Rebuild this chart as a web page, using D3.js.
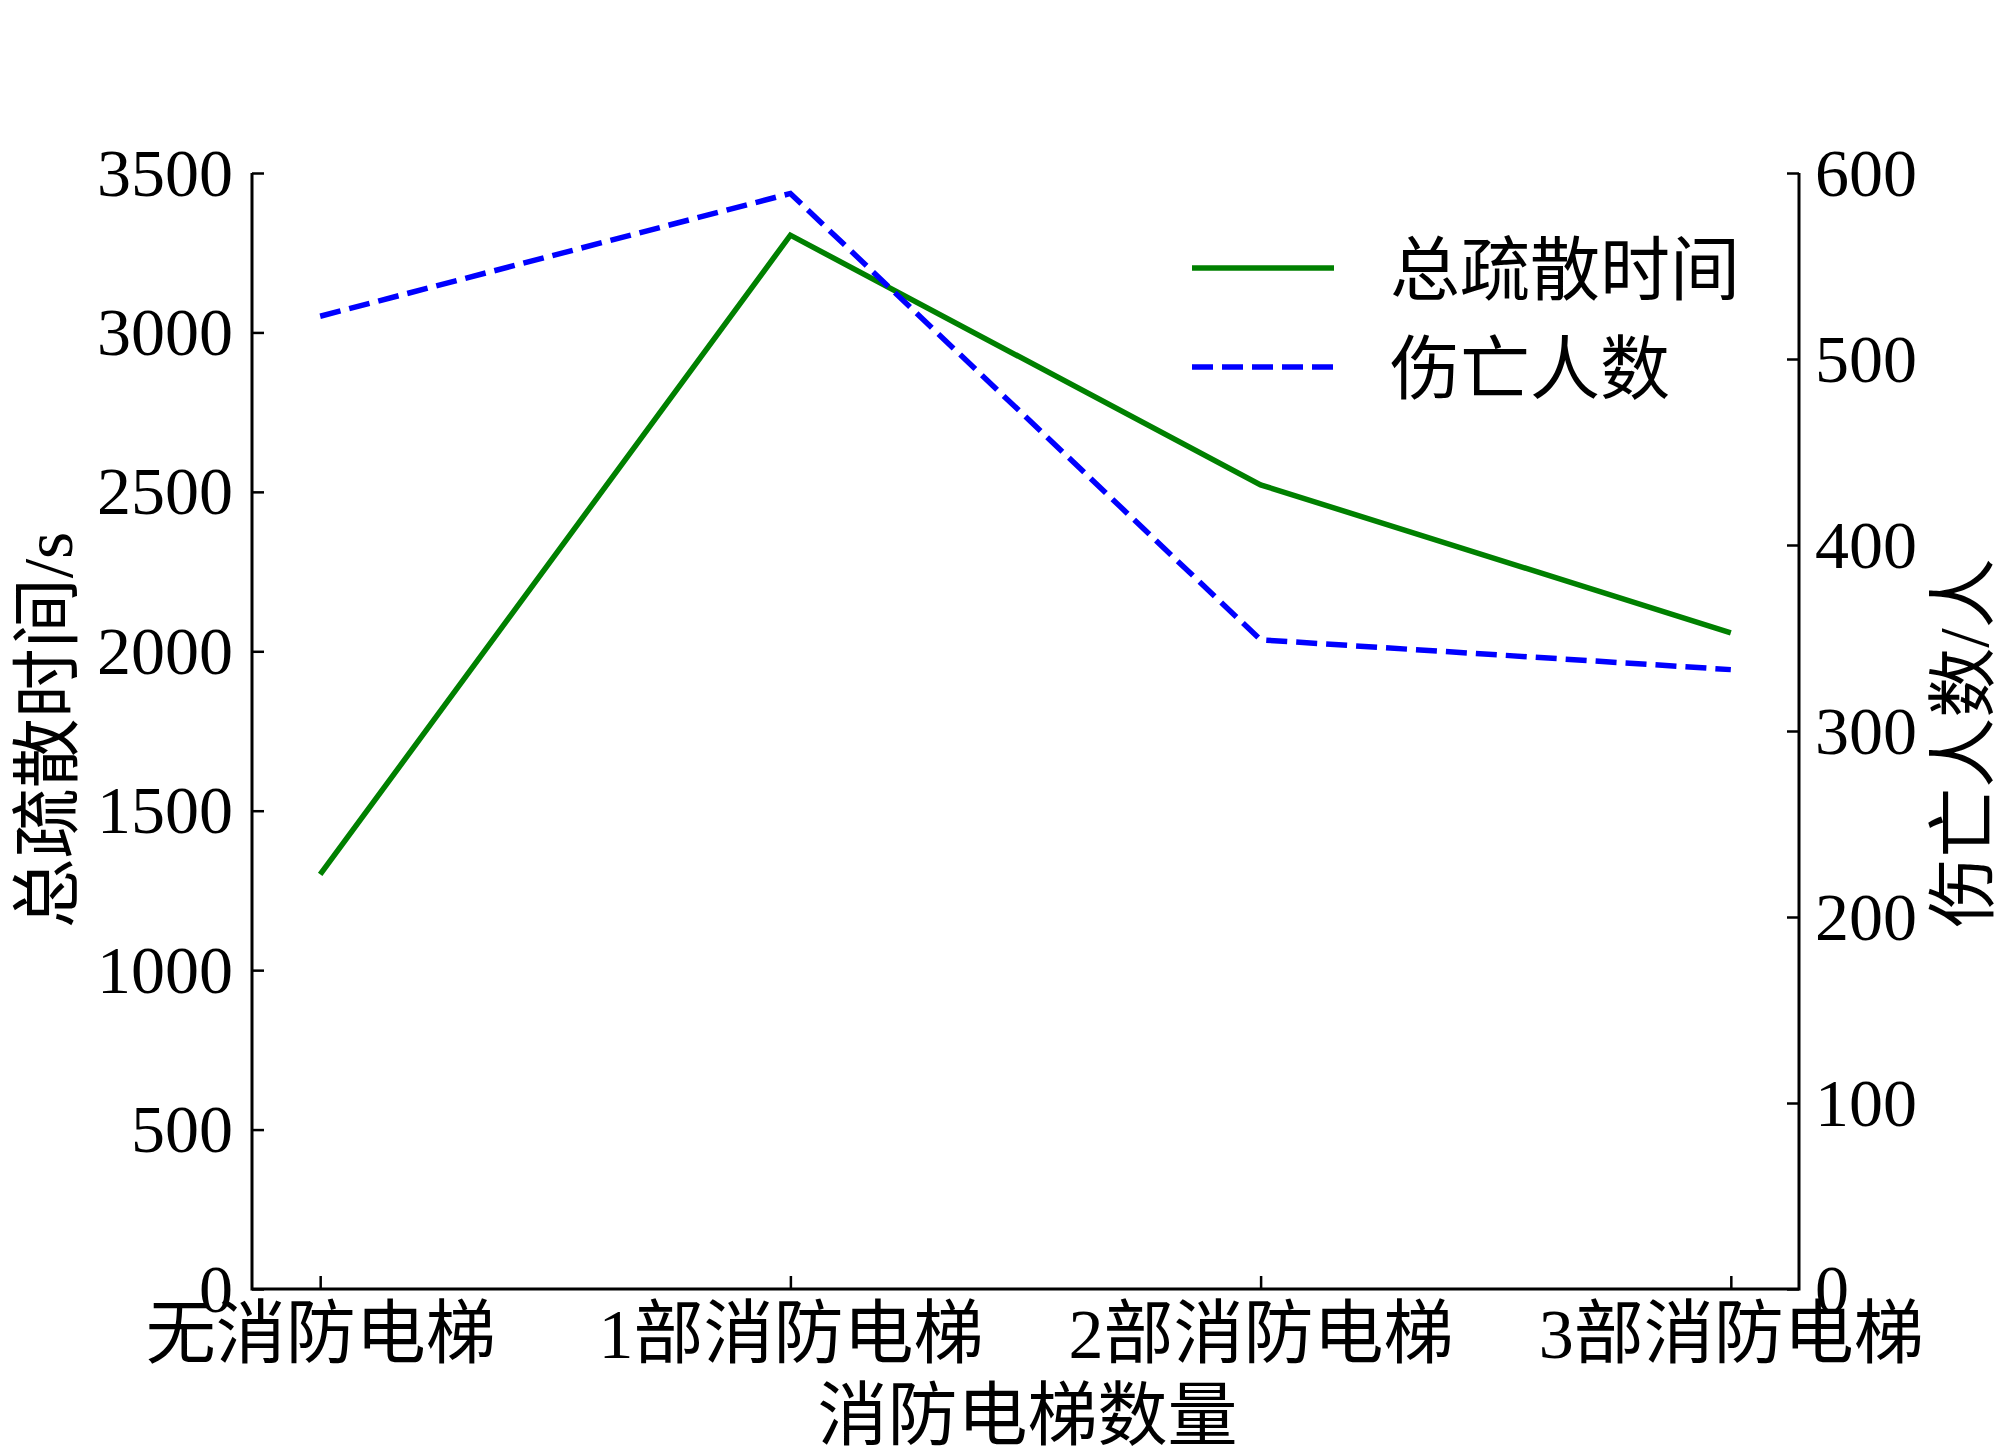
<!DOCTYPE html>
<html>
<head>
<meta charset="utf-8">
<script src="https://cdn.jsdelivr.net/npm/d3@7"></script>
<style>
  body { margin: 0; background: #fff; }
  text { font-family: 'Liberation Serif', 'Noto Sans CJK SC', serif; fill: #000; }
</style>
</head>
<body>
<svg width="2000" height="1449"></svg>
<script>
const categories = ['无消防电梯', '1部消防电梯', '2部消防电梯', '3部消防电梯']
const evacTime = [1300, 3305, 2522, 2058]
const casualties = [523, 589, 349, 333]
const leftTicks = [0, 500, 1000, 1500, 2000, 2500, 3000, 3500]
const rightTicks = [0, 100, 200, 300, 400, 500, 600]

const margin = { top: 173, right: 201, bottom: 160, left: 252 },
  width = 2000 - margin.left - margin.right,
  height = 1449 - margin.top - margin.bottom

const svg = d3.select('svg')
const g = svg.append('g').attr('transform', `translate(${margin.left},${margin.top})`)

const x = d3.scalePoint().domain(categories).range([0, width]).padding(0.145)
const yL = d3.scaleLinear().domain([0, 3500]).range([height, 0])
const yR = d3.scaleLinear().domain([0, 600]).range([height, 0])

const fs = 68
const fsCjk = 70

// axes
const xAxis = d3.axisBottom(x).tickSizeInner(-13).tickSizeOuter(0).tickPadding(0)
const leftAxis = d3.axisLeft(yL).tickValues(leftTicks).tickSizeInner(-12).tickSizeOuter(0).tickFormat(d3.format('d'))
const rightAxis = d3.axisRight(yR).tickValues(rightTicks).tickSizeInner(-12).tickSizeOuter(0).tickFormat(d3.format('d'))

function styleAxis(sel, size) {
  sel.select('.domain').remove()
  sel.selectAll('.tick line').attr('stroke', '#000').attr('stroke-width', 2.5)
  sel.selectAll('text').style('font-size', size + 'px')
}

const gx = g.append('g').attr('transform', `translate(0,${height})`).call(xAxis)
styleAxis(gx, fsCjk)
gx.selectAll('text').attr('y', 0).attr('dy', 0).attr('transform', 'translate(0,69)')

const gl = g.append('g').call(leftAxis)
styleAxis(gl, fs)
gl.selectAll('text').attr('x', -19).attr('dy', 22)

const gr = g.append('g').attr('transform', `translate(${width},0)`).call(rightAxis)
styleAxis(gr, fs)
gr.selectAll('text').attr('x', 16).attr('dy', 22)

// left, bottom and right spines
g.append('path')
  .attr('d', `M0,0V${height}H${width}V0`)
  .attr('fill', 'none')
  .attr('stroke', '#000')
  .attr('stroke-width', 3)

// lines
const lineL = d3.line().x((d, i) => x(categories[i])).y((d) => yL(d))
const lineR = d3.line().x((d, i) => x(categories[i])).y((d) => yR(d))

g.append('path')
  .datum(evacTime)
  .attr('d', lineL)
  .attr('fill', 'none')
  .attr('stroke', '#008000')
  .attr('stroke-width', 5.5)

g.append('path')
  .datum(casualties)
  .attr('d', lineR)
  .attr('fill', 'none')
  .attr('stroke', '#0000ff')
  .attr('stroke-width', 5.5)
  .attr('stroke-dasharray', '21,9')

// legend
const legendItems = [
  { label: '总疏散时间', color: '#008000', dash: null, y: 268 },
  { label: '伤亡人数', color: '#0000ff', dash: '21,9', y: 367 },
]
legendItems.forEach((d) => {
  svg.append('line')
    .attr('x1', 1192).attr('x2', 1334)
    .attr('y1', d.y).attr('y2', d.y)
    .attr('stroke', d.color)
    .attr('stroke-width', 5.5)
    .attr('stroke-dasharray', d.dash)
  svg.append('text')
    .attr('x', 1390).attr('y', d.y + 27)
    .style('font-size', fsCjk + 'px')
    .text(d.label)
})

// axis titles
svg.append('text')
  .attr('x', margin.left + width / 2 + 2)
  .attr('y', 1440)
  .attr('text-anchor', 'middle')
  .style('font-size', fsCjk + 'px')
  .text('消防电梯数量')

svg.append('text')
  .attr('transform', 'translate(72,730) rotate(-90)')
  .attr('text-anchor', 'middle')
  .style('font-size', fsCjk + 'px')
  .text('总疏散时间/s')

svg.append('text')
  .attr('transform', 'translate(1988,743) rotate(-90)')
  .attr('text-anchor', 'middle')
  .style('font-size', fsCjk + 'px')
  .text('伤亡人数/人')
</script>
</body>
</html>
